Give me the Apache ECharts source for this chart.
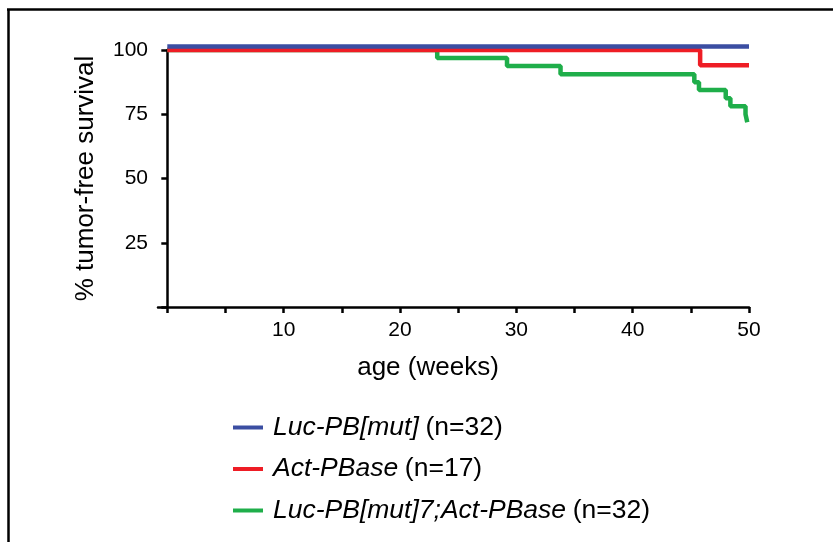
<!DOCTYPE html>
<html><head><meta charset="utf-8">
<script src="https://cdn.jsdelivr.net/npm/echarts@6/dist/echarts.min.js"></script>
<style>html,body{margin:0;padding:0;background:#fff}#c{width:833px;height:542px}</style>
</head><body><div id="c"></div>
<script>
// Data (weeks, % tumor-free survival); each point = value after the event at that time
var blueTimes = [0, 50];
var blueSurv  = [101.4, 101.4];
var redTimes  = [0, 45.8, 50];
var redSurv   = [100, 94.1, 94.1];
var greenTimes = [0, 23.2, 29.2, 33.8, 45.3, 45.7, 48.0, 48.4, 49.7, 49.85, 49.9];
var greenSurv  = [100, 96.9, 93.75, 90.6, 87.5, 84.4, 81.25, 78.1, 75.0, 71.9, 71.9];
var xTicks = [0, 5, 10, 15, 20, 25, 30, 35, 40, 45, 50];
var xTickLabels = [10, 20, 30, 40, 50];
var yTicks = [0, 25, 50, 75, 100];
var yTickLabels = [25, 50, 75, 100];
var xTitle = 'age (weeks)';
var yTitle = '% tumor-free survival';
var legendNames = ['Luc-PB[mut]', 'Act-PBase', 'Luc-PB[mut]7;Act-PBase'];
var legendCounts = ['(n=32)', '(n=17)', '(n=32)'];
var colors = ['#3b4ea2', '#ee1d25', '#1fae4a'];

function pairs(t, s) { return t.map(function (v, i) { return [v, s[i]]; }); }

var font = 'Liberation Sans, Arial, sans-serif';
var chart = echarts.init(document.getElementById('c'), null, {renderer: 'canvas'});
var seriesData = [pairs(blueTimes, blueSurv), pairs(redTimes, redSurv), pairs(greenTimes, greenSurv)];
var order = [2, 1, 0];
chart.setOption({
  animation: false,
  backgroundColor: '#fff',
  grid: {left: 158, right: 84, top: 50, bottom: 235},
  xAxis: {
    type: 'value', min: -0.8, max: 50,
    axisLine: {lineStyle: {color: '#000', width: 2.5}},
    axisTick: {show: true, customValues: xTicks, length: 6, inside: false, lineStyle: {color: '#000', width: 2.5}},
    axisLabel: {customValues: xTickLabels, fontFamily: font, fontSize: 21, color: '#000', margin: 13},
    splitLine: {show: false}
  },
  yAxis: {
    type: 'value', min: 0, max: 100,
    name: yTitle, nameLocation: 'middle', nameGap: 59, nameRotate: 90,
    nameTextStyle: {fontFamily: font, fontSize: 26, color: '#000'},
    axisLine: {show: true, onZero: true, lineStyle: {color: '#000', width: 2.5}},
    axisTick: {show: true, customValues: yTicks, length: 6, lineStyle: {color: '#000', width: 2.5}},
    axisLabel: {customValues: yTickLabels, fontFamily: font, fontSize: 21, color: '#000', margin: 10},
    splitLine: {show: false}
  },
  legend: {
    orient: 'vertical', left: 228, top: 409, itemGap: 14.5,
    itemWidth: 30, itemHeight: 4, icon: 'rect',
    data: legendNames.map(function (n, i) { return {name: n, itemStyle: {color: colors[i]}}; }),
    formatter: function (name) {
      var i = legendNames.indexOf(name);
      return '{it|' + name + '}  {nm|' + legendCounts[i] + '}';
    },
    textStyle: {
      padding: [0, 0, 0, 5],
      rich: {
        it: {fontFamily: font, fontSize: 26.5, fontStyle: 'italic', color: '#000', lineHeight: 30},
        nm: {fontFamily: font, fontSize: 26.5, color: '#000', lineHeight: 30}
      }
    }
  },
  graphic: [
    {type: 'line', shape: {x1: 8.5, y1: 9, x2: 8.5, y2: 542}, style: {stroke: '#000', lineWidth: 2.5}},
    {type: 'line', shape: {x1: 7, y1: 9.5, x2: 833, y2: 9.5}, style: {stroke: '#000', lineWidth: 2.5}},
    {type: 'text', x: 428, y: 368, style: {text: xTitle, font: '26px ' + font, fill: '#000', align: 'center', verticalAlign: 'middle'}}
  ],
  series: order.map(function (i) {
    return {
      name: legendNames[i], type: 'line', step: 'end', symbol: 'none', clip: false,
      data: seriesData[i], z: 10 - i,
      lineStyle: {color: colors[i], width: 4.5}, itemStyle: {color: colors[i]}
    };
  })
});
</script></body></html>
